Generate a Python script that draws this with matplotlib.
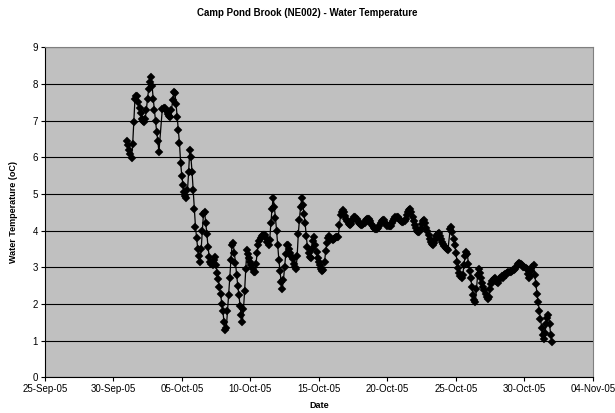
import matplotlib
matplotlib.use("Agg")
import matplotlib.pyplot as plt
import matplotlib.dates as mdates
import pandas as pd

plt.rcParams['font.family'] = ['Liberation Sans', 'DejaVu Sans']

# water temperature readings, every 2 hours from 01-Oct-05 00:00 (None = no reading)
temps = [
    6.45, 6.33, 6.20, 6.08, 5.98, 6.35, 6.95, 7.58, 7.68, 7.66, 7.50, 7.35,
    7.20, 7.05, 6.98, 6.97, 7.05, 7.30, 7.60, 7.85, 8.05, 8.18, 7.95, 7.60,
    7.30, 7.00, 6.70, 6.45, 6.15, None, None, 7.33, 7.35, 7.35, 7.30, 7.25,
    7.18, 7.12, 7.10, 7.30, 7.55, 7.78, 7.75, 7.45, 7.10, 6.75, 6.38, 5.85,
    5.50, 5.25, 5.05, 4.95, 4.90, 5.10, 5.60, 6.20, 6.00, 5.60, 5.10, 4.60,
    4.10, 3.80, 3.50, 3.30, 3.15, 3.50, 4.00, 4.45, 4.50, 4.20, 3.90, 3.55,
    3.29, 3.15, 3.08, 3.06, 3.20, 3.27, 3.05, 2.85, 2.67, 2.45, 2.28, 2.00,
    1.80, 1.50, 1.30, 1.35, 1.80, 2.25, 2.70, 3.20, 3.60, 3.65, 3.40, 3.12,
    2.80, 2.50, 2.25, 1.95, 1.70, 1.50, 1.85, 2.35, 2.95, 3.47, 3.35, 3.25,
    3.15, 3.05, 2.95, 2.87, 2.88, 3.10, 3.40, 3.62, 3.72, 3.80, 3.85, 3.88,
    3.88, 3.88, 3.80, 3.70, 3.62, 3.75, 4.20, 4.60, 4.90, 4.65, 4.35, 4.00,
    3.60, 3.20, 2.90, 2.60, 2.42, 2.65, 3.00, 3.35, 3.60, 3.62, 3.50, 3.40,
    3.32, 3.22, 3.10, 3.00, 2.95, 3.30, 3.90, 4.30, 4.65, 4.88, 4.70, 4.45,
    4.20, 3.85, 3.56, 3.40, 3.28, 3.26, 3.50, 3.72, 3.82, 3.60, 3.42, 3.26,
    3.15, 3.05, 2.95, 2.90, 2.92, 3.15, 3.45, 3.65, 3.80, 3.85, 3.80, 3.76,
    3.75, 3.77, 3.80, 3.82, 3.82, 3.82, 4.15, 4.42, 4.52, 4.56, 4.50, 4.40,
    4.32, 4.25, 4.18, 4.15, 4.18, 4.25, 4.33, 4.37, 4.38, 4.32, 4.25, 4.20,
    4.17, 4.15, 4.15, 4.18, 4.22, 4.28, 4.32, 4.33, 4.32, 4.25, 4.18, 4.12,
    4.08, 4.05, 4.04, 4.04, 4.08, 4.14, 4.20, 4.26, 4.29, 4.28, 4.22, 4.17,
    4.14, 4.12, 4.12, 4.14, 4.20, 4.27, 4.33, 4.37, 4.38, 4.36, 4.32, 4.28,
    4.25, 4.24, 4.24, 4.27, 4.33, 4.42, 4.50, 4.56, 4.58, 4.50, 4.38, 4.25,
    4.15, 4.07, 4.00, 3.97, 3.97, 4.05, 4.18, 4.27, 4.28, 4.20, 4.08, 3.98,
    3.88, 3.78, 3.70, 3.64, 3.61, 3.65, 3.75, 3.85, 3.92, 3.93, 3.85, 3.76,
    3.70, 3.64, 3.58, 3.53, 3.50, 3.47, None, 4.05, 4.10, 3.95, 3.78, 3.60,
    3.40, 3.15, 2.98, 2.85, 2.75, 2.70, 2.80, 3.05, 3.30, 3.42, 3.35, 3.10,
    2.90, 2.70, 2.45, 2.25, 2.10, 2.05, 2.40, 2.80, 2.95, 2.85, 2.70, 2.58,
    2.47, 2.38, 2.28, 2.20, 2.14, 2.20, 2.40, 2.55, 2.62, 2.68, 2.70, 2.64,
    2.60, 2.58, 2.65, 2.72, 2.75, 2.72, 2.78, 2.82, 2.80, 2.85, 2.88, 2.86,
    2.88, 2.90, 2.92, 2.93, 2.95, 3.02, 3.10, 3.12, 3.10, 3.08, 3.05, 3.02,
    3.00, 2.98, 2.95, 2.82, 2.72, 2.75, 2.90, 3.02, 3.06, 2.80, 2.55, 2.28,
    2.05, 1.82, 1.60, 1.35, 1.15, 1.05, 1.20, 1.45, 1.62, 1.70, 1.45, 1.15,
    0.95,
]

start = "2005-10-01 00:00"
x_start = "2005-09-25"
x_end = "2005-11-04"

times = pd.date_range(start, periods=len(temps), freq="2h")
series = pd.Series(temps, index=times, dtype=float).dropna()

fig = plt.figure(figsize=(6.15, 4.13), dpi=100)
ax = fig.add_axes([0.0727, 0.0864, 0.8915, 0.7991])
ax.set_facecolor('#C0C0C0')

ax.plot(series.index, series.values, color='black', linewidth=0.9,
        marker='D', markersize=3.6, markerfacecolor='black',
        markeredgecolor='black', markeredgewidth=0.3, zorder=3)

ax.set_ylim(0, 9)
ax.set_yticks(range(0, 10))
ax.yaxis.grid(True, color='black', linewidth=0.8)
ax.set_axisbelow(True)

ax.set_xlim(pd.Timestamp(x_start), pd.Timestamp(x_end))
ticks = pd.date_range(x_start, x_end, freq="5D")
ax.set_xticks(ticks)
ax.xaxis.set_major_formatter(mdates.DateFormatter('%d-%b-%y'))

ax.tick_params(axis='both', direction='out', length=3, width=0.8,
               labelsize=7, pad=2)
for side in ['top', 'right']:
    ax.spines[side].set_color('#808080')
    ax.spines[side].set_linewidth(0.8)
for side in ['left', 'bottom']:
    ax.spines[side].set_color('black')
    ax.spines[side].set_linewidth(0.8)

ax.set_xlabel("Date", fontsize=6.5, fontweight='bold', labelpad=5)
ax.set_ylabel("Water Temperature (oC)", fontsize=6.5, fontweight='bold', labelpad=10)
fig.text(0.5, 0.968, "Camp Pond Brook (NE002) - Water Temperature",
         ha='center', va='center', fontsize=7, fontweight='bold')

fig.savefig('out.png', dpi=100)
